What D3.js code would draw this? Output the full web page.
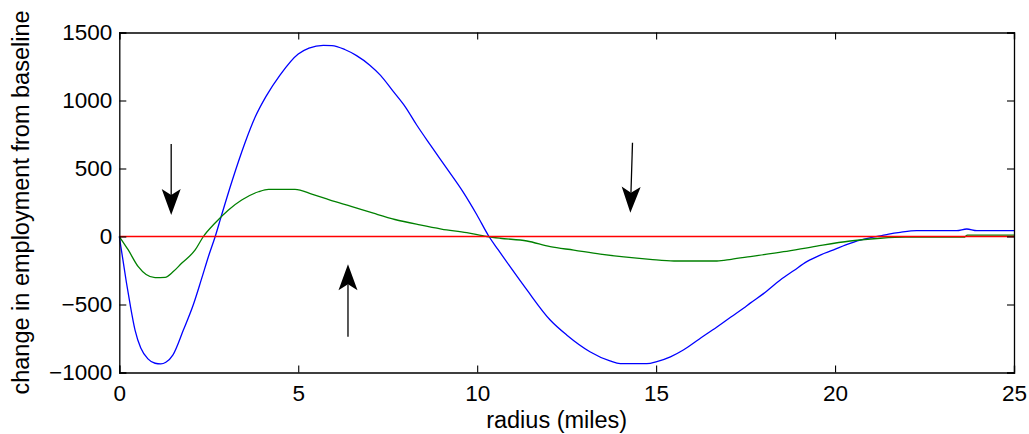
<!DOCTYPE html>
<html>
<head>
<meta charset="utf-8">
<script src="https://cdn.jsdelivr.net/npm/d3@7"></script>
<style>
  body { margin: 0; background: #fff; }
  text { font-family: "Liberation Sans", Arial, sans-serif; }
</style>
</head>
<body>
<div id="container"></div>
<script>
/* CONSTANTS AND GLOBALS */
const width = 1029,
  height = 434;
const margin = { top: 32.5, right: 15, bottom: 61.5, left: 119.3 };

/* DATA */
// blue series (radius in miles, change in employment)
const blueRadius = [0, 0.1, 0.2, 0.3, 0.44, 0.6, 0.8, 1.0, 1.16, 1.3, 1.5, 1.79, 2.07, 2.3, 2.5, 2.68, 2.84, 3.16, 3.5, 3.8, 4.1, 4.49, 5.0, 5.3, 5.7, 5.94, 6.3, 6.63, 7.0, 7.3, 7.66, 8.0, 8.31, 8.7, 9.15, 9.6, 9.99, 10.33, 10.59, 10.92, 11.39, 12.04, 12.5, 13.15, 13.71, 14.0, 14.74, 15.02, 15.4, 15.76, 16.2, 16.7, 17.1, 17.44, 17.63, 18.0, 18.47, 18.85, 19.21, 19.6, 19.96, 20.3, 20.7, 21.0, 21.26, 21.5, 21.82, 22.28, 23.4, 23.68, 23.96, 25];
const blueValues = [0, -170, -340, -496, -688, -820, -900, -932, -937, -925, -870, -688, -500, -310, -140, 0, 141, 415, 680, 880, 1030, 1187, 1342, 1385, 1406, 1404, 1375, 1330, 1260, 1185, 1065, 950, 820, 670, 501, 330, 160, 0, -99, -222, -393, -614, -724, -847, -915, -935, -935, -920, -885, -835, -755, -665, -590, -528, -490, -420, -320, -250, -185, -135, -99, -62, -26, -8, 5, 18, 31, 43, 43, 55, 43, 43];

// green series
const greenRadius = [0, 0.25, 0.53, 0.75, 1.0, 1.28, 1.5, 1.74, 2.12, 2.35, 2.67, 3.05, 3.42, 3.89, 4.17, 4.91, 5.4, 5.89, 6.5, 7.1, 7.7, 8.4, 9.0, 9.71, 10.27, 10.64, 11.39, 12.04, 12.7, 13.44, 14.1, 14.83, 15.5, 16.7, 17.1, 17.63, 18.56, 19.49, 20.42, 21.26, 21.96, 23.6, 23.7, 25];
const greenValues = [0, -99, -222, -280, -303, -300, -260, -197, -99, 0, 97, 195, 268, 329, 347, 347, 310, 268, 220, 171, 125, 85, 55, 28, 0, -13, -33, -75, -100, -129, -150, -168, -180, -180, -168, -148, -112, -70, -33, -13, -5, -5, 10, 10];

// red baseline
const redRadius = [0, 25];
const redValues = [0, 0];

// annotation arrows [x1, y1, x2, y2] in data units (head at x2, y2)
const arrows = [
  [1.45, 680, 1.45, 158],
  [14.34, 690, 14.28, 175],
  [6.39, -737, 6.39, -204]
];

const xTicks = [0, 5, 10, 15, 20, 25];
const yTicks = [-1000, -500, 0, 500, 1000, 1500];

/* SCALES */
const xScale = d3.scaleLinear()
  .domain([0, 25])
  .range([margin.left, width - margin.right]);

const yScale = d3.scaleLinear()
  .domain([-1000, 1500])
  .range([height - margin.bottom, margin.top]);

const svg = d3.select("#container")
  .append("svg")
  .attr("width", width)
  .attr("height", height);

// SERIES (blue, green, red in that order)
const line = d3.line()
  .x(d => xScale(d[0]))
  .y(d => yScale(d[1]))
  .curve(d3.curveMonotoneX);

const series = [
  { color: "#0000ff", data: d3.zip(blueRadius, blueValues) },
  { color: "#008000", data: d3.zip(greenRadius, greenValues) },
  { color: "#ff0000", data: d3.zip(redRadius, redValues) }
];

svg.append("g")
  .selectAll("path")
  .data(series)
  .join("path")
  .attr("fill", "none")
  .attr("stroke", d => d.color)
  .attr("stroke-width", 1.3)
  .attr("d", d => line(d.data));

// Axes: ticks pointing inward on all four sides
const fmt = d => d < 0 ? "\u2212" + Math.abs(d) : String(d);
const tickLen = 7;

const xBottom = svg.append("g")
  .attr("transform", `translate(0,${height - margin.bottom})`)
  .call(d3.axisBottom(xScale).tickValues(xTicks).tickSize(-tickLen).tickPadding(13).tickFormat(fmt));
const xTop = svg.append("g")
  .attr("transform", `translate(0,${margin.top})`)
  .call(d3.axisTop(xScale).tickValues(xTicks).tickSize(-tickLen).tickFormat(""));
const yLeft = svg.append("g")
  .attr("transform", `translate(${margin.left},0)`)
  .call(d3.axisLeft(yScale).tickValues(yTicks).tickSize(-tickLen).tickPadding(7).tickFormat(fmt));
const yRight = svg.append("g")
  .attr("transform", `translate(${width - margin.right},0)`)
  .call(d3.axisRight(yScale).tickValues(yTicks).tickSize(-tickLen).tickFormat(""));

[xBottom, xTop, yLeft, yRight].forEach(g => {
  g.select(".domain").attr("stroke", "#000").attr("stroke-width", 1.3);
  g.selectAll(".tick line").attr("stroke", "#000").attr("stroke-width", 1.1);
  g.selectAll(".tick text")
    .attr("fill", "#000")
    .style("font-size", "22.5px");
});

// Arrows
const headLen = 26, headHalf = 9.5, notch = 6;
arrows.forEach(a => {
  const x1 = xScale(a[0]), y1 = yScale(a[1]);
  const x2 = xScale(a[2]), y2 = yScale(a[3]);
  const len = Math.hypot(x2 - x1, y2 - y1);
  const ux = (x2 - x1) / len, uy = (y2 - y1) / len;
  const px = -uy, py = ux;
  const bx = x2 - ux * headLen, by = y2 - uy * headLen;
  const nx = x2 - ux * (headLen - notch), ny = y2 - uy * (headLen - notch);
  svg.append("line")
    .attr("x1", x1).attr("y1", y1)
    .attr("x2", nx).attr("y2", ny)
    .attr("stroke", "#000")
    .attr("stroke-width", 1.3);
  svg.append("path")
    .attr("d", `M${x2},${y2}L${bx + px * headHalf},${by + py * headHalf}L${nx},${ny}L${bx - px * headHalf},${by - py * headHalf}Z`)
    .attr("fill", "#000");
});

// Labels
svg.append("text")
  .attr("x", (margin.left + width - margin.right) / 2 - 10)
  .attr("y", 428)
  .attr("text-anchor", "middle")
  .style("font-size", "23.5px")
  .text("radius (miles)");

svg.append("text")
  .attr("transform", `translate(29,${(margin.top + height - margin.bottom) / 2})rotate(-90)`)
  .attr("text-anchor", "middle")
  .style("font-size", "23.5px")
  .text("change in employment from baseline");
</script>
</body>
</html>
